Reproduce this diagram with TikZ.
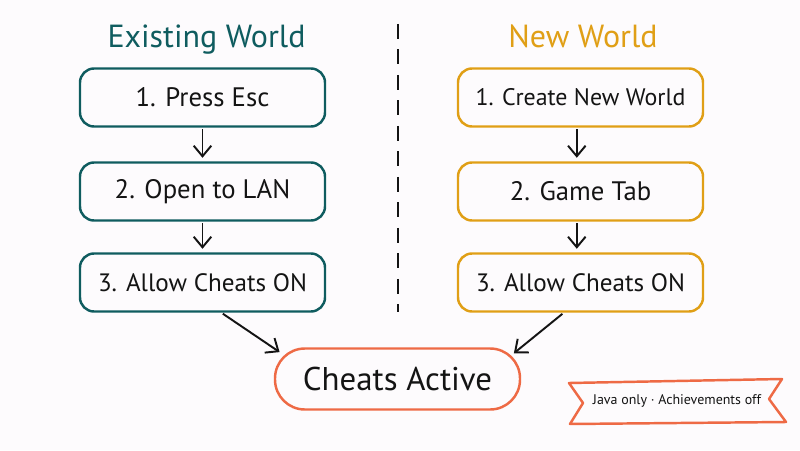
\documentclass[tikz,border=0pt]{standalone}
\usepackage{fontspec}
\setmainfont{PT Sans}
\usepackage[dvipsnames]{xcolor}
\usetikzlibrary{arrows.meta}
\definecolor{tealline}{HTML}{0F5C5F}
\definecolor{amberline}{HTML}{E09F16}
\definecolor{coralline}{HTML}{EE6A45}
\definecolor{paper}{HTML}{FDFBFD}
\definecolor{inkline}{HTML}{141414}

\begin{document}
\begin{tikzpicture}[
    stepnode/.style={rectangle, draw, line width=1.4pt, rounded corners=8pt,
        minimum width=4.9cm, minimum height=1.16cm, text=inkline,
        font=\fontsize{15.2}{18}\selectfont},
    titlenode/.style={anchor=base, font=\fontsize{18.2}{22}\selectfont},
    flow/.style={-{Straight Barb[length=6pt, width=10pt]}, inkline, line width=1.1pt}]
    \fill[paper] (0, 0) rectangle (16, 9);
    \useasboundingbox (0, 0) rectangle (16, 9);

    \node[titlenode, text=tealline] at (4.13, 8.04) (oldtitle) {Existing World};
    \node[titlenode, text=amberline] at (11.66, 8.04) (newtitle) {New World};

    \node[stepnode, draw=tealline] at (4.05, 7.05) (old1) {1. Press Esc};
    \node[stepnode, draw=tealline] at (4.05, 5.17) (old2) {2. Open to LAN};
    \node[stepnode, draw=tealline, font=\fontsize{14.3}{18}\selectfont] at (4.05, 3.35) (old3) {3. Allow Cheats ON};

    \node[stepnode, draw=amberline, font=\fontsize{13.6}{18}\selectfont] at (11.61, 7.05) (new1) {1. Create New World};
    \node[stepnode, draw=amberline] at (11.61, 5.17) (new2) {2. Game Tab};
    \node[stepnode, draw=amberline, font=\fontsize{14.3}{18}\selectfont] at (11.61, 3.35) (new3) {3. Allow Cheats ON};

    \node[stepnode, draw=coralline, rounded corners=17pt, minimum height=1.22cm,
        font=\fontsize{18.7}{24}\selectfont] at (7.95, 1.42) (active) {Cheats Active};

    \coordinate (divtop) at (7.96, 8.52);
    \coordinate (divbot) at (7.96, 2.76);
    \draw[inkline, line width=1.1pt, dash pattern=on 8.5pt off 6pt] (divtop) -- (divbot);

    \draw[flow, shorten <=1pt, shorten >=2pt] (old1) -- (old2);
    \draw[flow, shorten <=1pt, shorten >=2pt] (old2) -- (old3);
    \draw[flow, shorten <=1pt, shorten >=2pt] (new1.-97) -- (new2.97);
    \draw[flow, shorten <=1pt, shorten >=2pt] (new2.-97) -- (new3.97);
    \draw[flow, shorten <=1pt, shorten >=-4pt] (old3.-58) -- (active.166);
    \draw[flow, shorten <=1pt, shorten >=-5.4pt] (new3.-119) -- (active.north east);

    \draw[coralline, line width=1.4pt, line join=round]
        (11.38, 1.34) -- (15.64, 1.42) -- (15.38, 1.02) -- (15.72, 0.56)
        -- (11.40, 0.52) -- (11.66, 0.94) -- cycle;
    \node[text=inkline, font=\fontsize{7.95}{10}\selectfont] at (13.54, 0.98) (note) {Java only · Achievements off};
\end{tikzpicture}
\end{document}
